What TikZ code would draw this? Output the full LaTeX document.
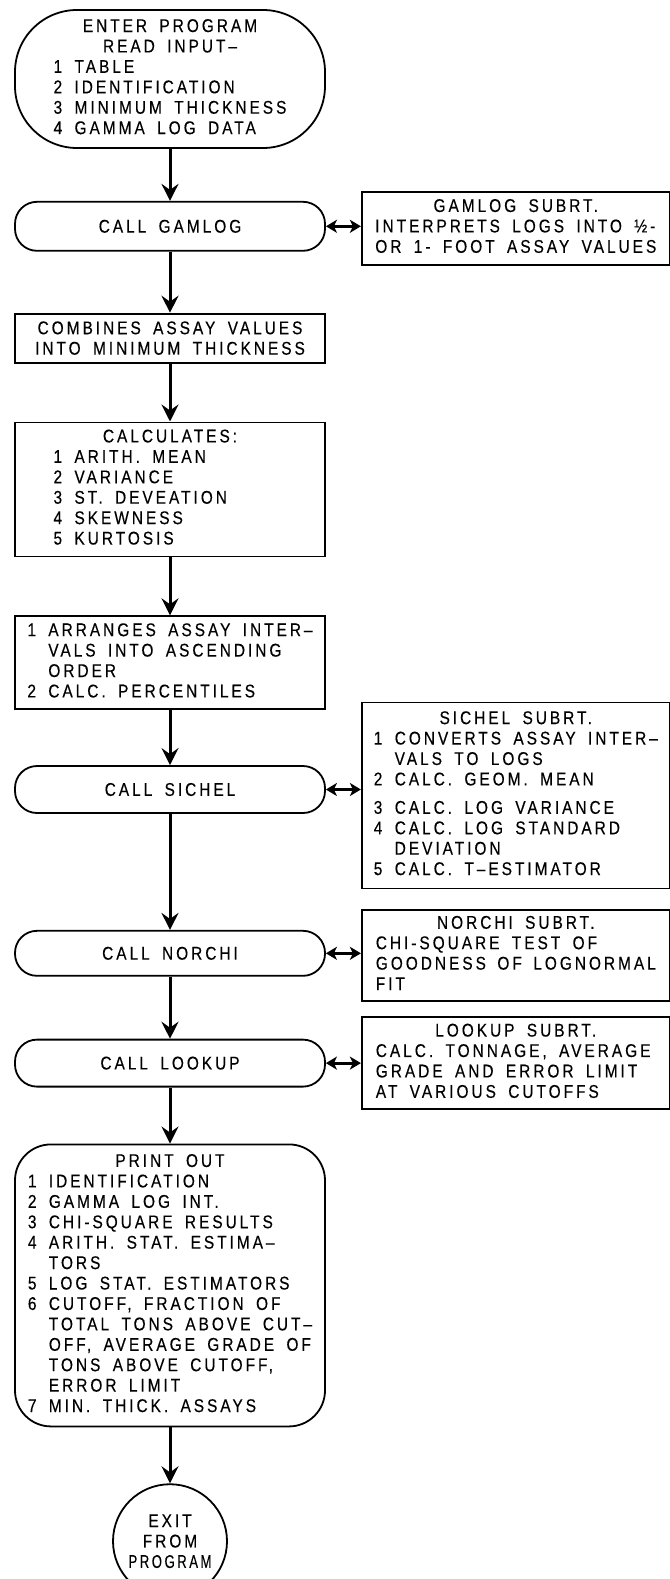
\documentclass[tikz,border=0pt]{standalone}
\usepackage{fontspec}
\setmainfont[FakeStretch=0.84,LetterSpace=16,WordSpace=1.7,FakeBold=0.3]{Liberation Sans}
\usetikzlibrary{arrows.meta,positioning}

\begin{document}
\begin{tikzpicture}[x=1bp,y=1bp,
    every node/.style={font=\fontsize{18.5}{20.5}\selectfont,inner sep=4bp},
    terminal/.style={draw,line width=1.8bp,rounded corners=62bp,minimum width=310bp,minimum height=138bp},
    callbox/.style={draw,line width=1.8bp,rounded corners=22bp,minimum width=310bp,minimum height=49bp},
    process/.style={rectangle,draw,line width=1.8bp,minimum width=310bp},
    subrt/.style={rectangle,draw,line width=1.8bp,minimum width=308bp},
    stop/.style={circle,draw,line width=1.8bp,minimum size=114bp,inner sep=0pt,align=center},
    arrow/.style={-{Stealth[length=17bp,width=17bp,inset=6bp]},line width=3bp},
    link/.style={{Stealth[length=11bp,width=13bp,inset=3bp]}-{Stealth[length=11bp,width=13bp,inset=3bp]},line width=3bp}
]
\useasboundingbox (0,0) rectangle (670,-1579);

% Main program
\node[terminal] (start) at (170,-79) {\begin{tabular}{@{}r@{~}l@{}}
  \multicolumn{2}{c}{ENTER PROGRAM}\\
  \multicolumn{2}{c}{READ INPUT--}\\
  1 & TABLE\\
  2 & IDENTIFICATION\\
  3 & MINIMUM THICKNESS\\
  4 & GAMMA LOG DATA
\end{tabular}};
\node[callbox,below=52bp of start] (gamlog) {CALL GAMLOG};
\node[process,below=61bp of gamlog,minimum height=49bp,align=center] (combine) {COMBINES ASSAY VALUES\\INTO MINIMUM THICKNESS};
\node[process,below=58bp of combine,minimum height=134bp] (calc) {\begin{tabular}{@{}r@{~}p{212bp}@{}}
  \multicolumn{2}{c}{CALCULATES:}\\
  1 & ARITH. MEAN\\
  2 & VARIANCE\\
  3 & ST. DEVEATION\\
  4 & SKEWNESS\\
  5 & KURTOSIS
\end{tabular}};
\node[process,below=58bp of calc,minimum height=93bp] (arrange) {\begin{tabular}{@{}r@{~}l@{}}
  1 & ARRANGES ASSAY INTER--\\
    & VALS INTO ASCENDING\\
    & ORDER\\
  2 & CALC. PERCENTILES
\end{tabular}};
\node[callbox,below=55bp of arrange,minimum height=47bp] (sichel) {CALL SICHEL};
\node[callbox,below=116bp of sichel,minimum height=45bp] (norchi) {CALL NORCHI};
\node[callbox,below=62bp of norchi,minimum height=47bp] (lookup) {CALL LOOKUP};
\node[terminal,below=56bp of lookup,rounded corners=36bp,minimum height=282bp] (print) {\begin{tabular}{@{}r@{~}l@{}}
  \multicolumn{2}{c}{PRINT OUT}\\
  1 & IDENTIFICATION\\
  2 & GAMMA LOG INT.\\
  3 & CHI-SQUARE RESULTS\\
  4 & ARITH. STAT. ESTIMA--\\
    & TORS\\
  5 & LOG STAT. ESTIMATORS\\
  6 & CUTOFF, FRACTION OF\\
    & TOTAL TONS ABOVE CUT--\\
    & OFF, AVERAGE GRADE OF\\
    & TONS ABOVE CUTOFF,\\
    & ERROR LIMIT\\
  7 & MIN. THICK. ASSAYS
\end{tabular}};
\node[stop,below=56bp of print] (exit) {EXIT\\FROM\\\scalebox{0.85}[1]{PROGRAM}};

% Subroutines
\node[subrt,right=35bp of gamlog,minimum height=73bp,yshift=-2bp] (gamsub) {\begin{tabular}{@{}l@{}}
  \multicolumn{1}{c}{GAMLOG SUBRT.}\\
  INTERPRETS LOGS INTO ½-\\
  OR 1- FOOT ASSAY VALUES
\end{tabular}};
\node[subrt,right=35bp of sichel,minimum height=186bp,yshift=-6bp] (sichsub) {\begin{tabular}{@{}r@{~}l@{}}
  \multicolumn{2}{c}{SICHEL SUBRT.}\\
  1 & CONVERTS ASSAY INTER--\\
    & VALS TO LOGS\\
  2 & CALC. GEOM. MEAN\\[8bp]
  3 & CALC. LOG VARIANCE\\
  4 & CALC. LOG STANDARD\\
    & DEVIATION\\
  5 & CALC. T--ESTIMATOR
\end{tabular}};
\node[subrt,right=35bp of norchi,minimum height=91bp,yshift=-2bp] (norsub) {\begin{tabular}{@{}p{280bp}@{}}
  \multicolumn{1}{c}{NORCHI SUBRT.}\\
  CHI-SQUARE TEST OF\\
  GOODNESS OF LOGNORMAL\\
  FIT
\end{tabular}};
\node[subrt,right=35bp of lookup,minimum height=92bp] (looksub) {\begin{tabular}{@{}p{280bp}@{}}
  \multicolumn{1}{c}{LOOKUP SUBRT.}\\
  CALC. TONNAGE, AVERAGE\\
  GRADE AND ERROR LIMIT\\
  AT VARIOUS CUTOFFS
\end{tabular}};

% Program flow
\draw[arrow] (start) -- (gamlog);
\draw[arrow] (gamlog) -- (combine);
\draw[arrow] (combine) -- (calc);
\draw[arrow] (calc) -- (arrange);
\draw[arrow] (arrange) -- (sichel);
\draw[arrow] (sichel) -- (norchi);
\draw[arrow] (norchi) -- (lookup);
\draw[arrow] (lookup) -- (print);
\draw[arrow] (print) -- (exit);

% Calls to subroutines
\draw[link] (gamlog.east) -- (gamlog.east -| gamsub.west);
\draw[link] (sichel.east) -- (sichel.east -| sichsub.west);
\draw[link] (norchi.east) -- (norchi.east -| norsub.west);
\draw[link] (lookup.east) -- (lookup.east -| looksub.west);

\end{tikzpicture}
\end{document}
